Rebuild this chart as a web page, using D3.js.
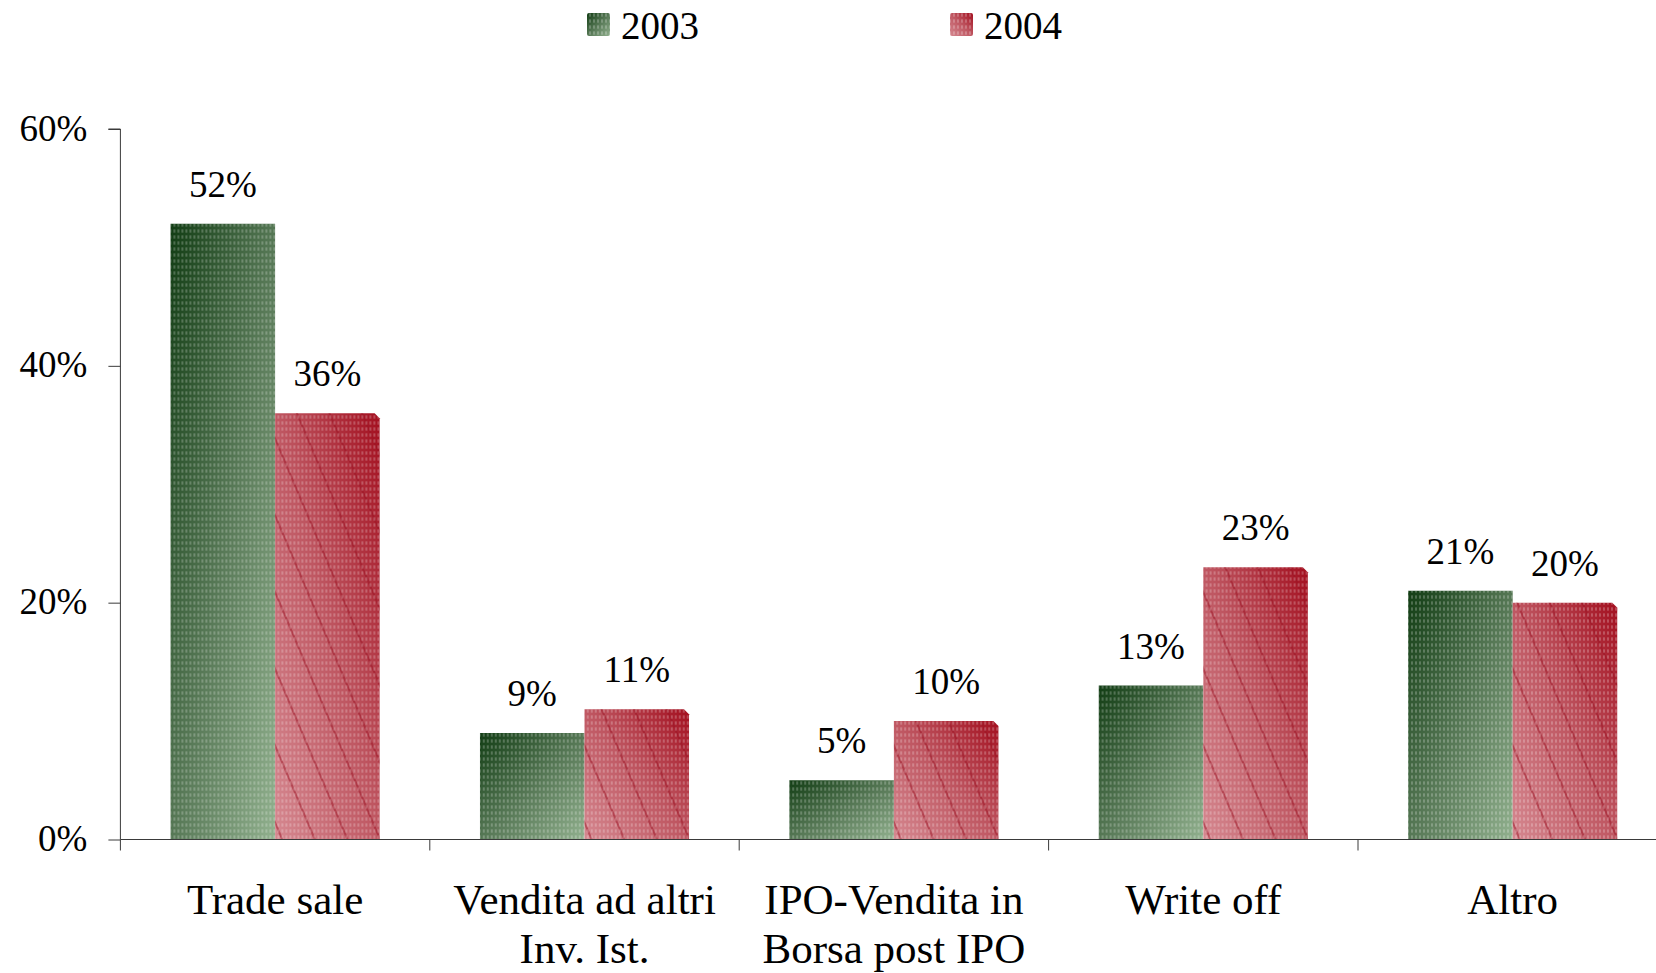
<!DOCTYPE html>
<html>
<head>
<meta charset="utf-8">
<script src="https://cdn.jsdelivr.net/npm/d3@7"></script>
<style>
  html, body { margin: 0; padding: 0; background: #fff; overflow: hidden; }
  svg { display: block; font-family: "Liberation Serif", "DejaVu Serif", serif; }
</style>
</head>
<body>
<svg id="chart" width="1656" height="973"></svg>
<script>
const categories = ["Trade sale", "Vendita ad altri\nInv. Ist.", "IPO-Vendita in\nBorsa post IPO", "Write off", "Altro"];
const seriesNames = ["2003", "2004"];
const values2003 = [52, 9, 5, 13, 21];
const values2004 = [36, 11, 10, 23, 20];
const yTicks = [0, 20, 40, 60];

const svg = d3.select("#chart");
const defs = svg.append("defs");

// gradients
const g1 = defs.append("linearGradient").attr("id", "grad2003")
  .attr("x1", 0).attr("y1", 0).attr("x2", 1).attr("y2", 1);
g1.append("stop").attr("offset", "0%").attr("stop-color", "#123d14");
g1.append("stop").attr("offset", "55%").attr("stop-color", "#5c7d5b");
g1.append("stop").attr("offset", "100%").attr("stop-color", "#91b08e");

const g2 = defs.append("linearGradient").attr("id", "grad2004")
  .attr("x1", 1).attr("y1", 0).attr("x2", 0).attr("y2", 1);
g2.append("stop").attr("offset", "0%").attr("stop-color", "#a30f1f");
g2.append("stop").attr("offset", "50%").attr("stop-color", "#bf5762");
g2.append("stop").attr("offset", "100%").attr("stop-color", "#d58890");

// dot texture
const dots = defs.append("pattern").attr("id", "dots")
  .attr("patternUnits", "userSpaceOnUse").attr("width", 4).attr("height", 6);
dots.append("ellipse").attr("cx", 2).attr("cy", 3).attr("rx", 0.9).attr("ry", 1.9)
  .attr("fill", "#fff").attr("opacity", 0.28);

// diagonal lines texture
const lines = defs.append("pattern").attr("id", "hatch")
  .attr("patternUnits", "userSpaceOnUse").attr("width", 30).attr("height", 30)
  .attr("patternTransform", "rotate(-23)");
lines.append("line").attr("x1", 1).attr("y1", 0).attr("x2", 1).attr("y2", 30)
  .attr("stroke", "#9a0f22").attr("stroke-opacity", 0.6).attr("stroke-width", 1.6);

const x0 = 120.4, band = 309.4;
const x = d3.scaleBand().domain(categories)
  .range([x0, x0 + band * categories.length]).paddingInner(0).paddingOuter(0);
const xs = d3.scaleBand().domain(seriesNames).range([0, x.bandwidth()])
  .paddingInner(0).paddingOuter(0.48);
const y = d3.scaleLinear().domain([0, 60]).range([839.5, 129]);

const axisColor = "#3a3a3a";

// y axis
const yAxis = svg.append("g").attr("transform", `translate(${x0},0)`)
  .call(d3.axisLeft(y).tickValues(yTicks).tickSize(12).tickPadding(21)
    .tickFormat(d => d + "%"));
yAxis.select(".domain").attr("stroke", axisColor).attr("d", `M-12,${y(60)}H0V${y(0)}`);
yAxis.selectAll(".tick line").attr("stroke", axisColor);
yAxis.selectAll(".tick text").attr("font-size", 37).attr("fill", "#000")
  .attr("font-family", "Liberation Serif").attr("dy", "0.3em");

// bars
const data = categories.map((c, i) => ({ cat: c, vals: [values2003[i], values2004[i]] }));
const groups = svg.append("g").selectAll("g").data(data).join("g")
  .attr("transform", d => `translate(${x(d.cat)},0)`);

function barPath(xl, w, top, bottom, bevel) {
  if (bevel) {
    const b = 5;
    return `M${xl},${bottom}V${top}H${xl + w - b}L${xl + w},${top + b}V${bottom}Z`;
  }
  return `M${xl},${bottom}V${top}H${xl + w}V${bottom}Z`;
}

groups.each(function(d) {
  const g = d3.select(this);
  seriesNames.forEach((s, j) => {
    const v = d.vals[j];
    const xl = xs(s), w = xs.bandwidth();
    const p = barPath(xl, w, y(v), y(0), j === 1);
    g.append("path").attr("d", p).attr("fill", j === 0 ? "url(#grad2003)" : "url(#grad2004)");
    if (j === 1) g.append("path").attr("d", p).attr("fill", "url(#hatch)");
    g.append("path").attr("d", p).attr("fill", "url(#dots)");
    g.append("text").attr("x", xl + w / 2).attr("y", y(v) - 27)
      .attr("text-anchor", "middle").attr("font-size", 37).attr("fill", "#000")
      .text(v + "%");
  });
});

// x axis
const xEnd = x0 + band * categories.length;
svg.append("path").attr("d", `M${x0},${y(0)}H${xEnd}`).attr("stroke", axisColor)
  .attr("stroke-width", 1).attr("fill", "none");
const bounds = categories.map(c => x(c)).concat([xEnd]);
svg.append("g").selectAll("line").data(bounds).join("line")
  .attr("x1", d => d).attr("x2", d => d).attr("y1", y(0)).attr("y2", y(0) + 11)
  .attr("stroke", axisColor);

// category labels
svg.append("g").selectAll("text").data(categories).join("text")
  .attr("x", d => x(d) + x.bandwidth() / 2)
  .attr("y", 914)
  .attr("text-anchor", "middle").attr("font-size", 43).attr("fill", "#000")
  .each(function(d) {
    const t = d3.select(this);
    d.split("\n").forEach((line, k) => {
      t.append("tspan").attr("x", x(d) + x.bandwidth() / 2)
        .attr("dy", k === 0 ? 0 : 49).text(line);
    });
  });

// legend
const legendItems = [
  { name: seriesNames[0], sx: 587, tx: 621, fill: "url(#grad2003)" },
  { name: seriesNames[1], sx: 950, tx: 984, fill: "url(#grad2004)" }
];
const lg = svg.append("g").selectAll("g").data(legendItems).join("g");
lg.append("rect").attr("x", d => d.sx).attr("y", 13).attr("width", 23).attr("height", 23)
  .attr("rx", 2).attr("fill", d => d.fill);
lg.append("rect").attr("x", d => d.sx).attr("y", 13).attr("width", 23).attr("height", 23)
  .attr("fill", "url(#dots)");
lg.append("text").attr("x", d => d.tx).attr("y", 39).attr("font-size", 39)
  .attr("fill", "#000").text(d => d.name);
</script>
</body>
</html>
